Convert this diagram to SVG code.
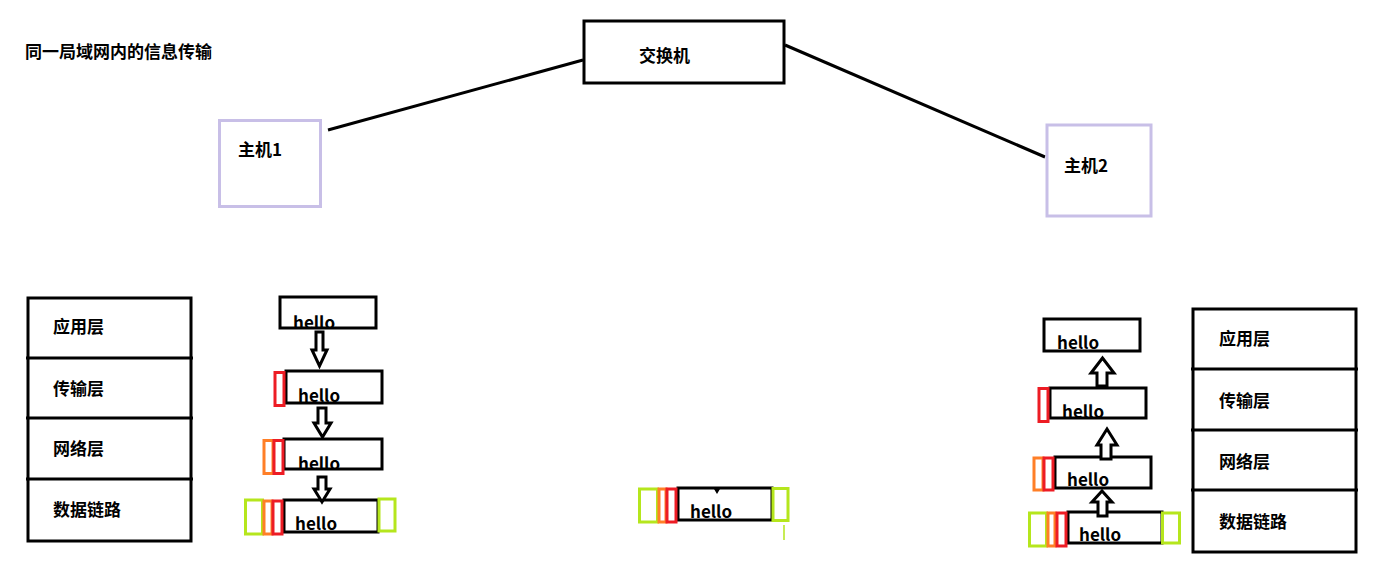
<svg xmlns="http://www.w3.org/2000/svg" width="1388" height="574" viewBox="0 0 1388 574">
<style>
text{font-family:"Noto Sans CJK SC","Noto Sans",sans-serif;font-weight:bold;font-size:17px;fill:#000}
.blk{fill:#fff;stroke:#000;stroke-width:3}
.host{fill:#fff;stroke:#c8bfe7;stroke-width:3}
.red{fill:#fff;stroke:#ed1c24;stroke-width:3}
.org{fill:#fff;stroke:#ff7f27;stroke-width:3}
.grn{fill:#fff;stroke:#b5e61d;stroke-width:3}
.arr{fill:#fff;stroke:#000;stroke-width:3;stroke-linejoin:miter}
.ln{stroke:#000;stroke-width:3;fill:none}
</style>
<rect width="1388" height="574" fill="#fff"/>
<text x="25" y="58" id="title">同一局域网内的信息传输</text>

<g id="connectors">
<line class="ln" x1="328" y1="130" x2="583" y2="60"/>
<line class="ln" x1="785" y1="45" x2="1045" y2="157"/>
</g>

<g id="switch">
<rect class="blk" x="584" y="21" width="200" height="62" stroke-width="3.5"/>
<text x="639" y="62">交换机</text>
</g>
<g id="host1">
<rect class="host" x="219.5" y="120.5" width="101" height="86"/>
<text x="238" y="156">主机1</text>
</g>
<g id="host2">
<rect class="host" x="1047" y="125" width="104" height="91"/>
<text x="1064" y="172">主机2</text>
</g>

<g id="stack-left">
<rect class="blk" x="28" y="298" width="163" height="243"/>
<line class="ln" x1="26" y1="358" x2="193" y2="358"/>
<line class="ln" x1="26" y1="418" x2="193" y2="418"/>
<line class="ln" x1="26" y1="479" x2="193" y2="479"/>
<text x="53" y="333">应用层</text>
<text x="53" y="395">传输层</text>
<text x="53" y="455">网络层</text>
<text x="53" y="516">数据链路</text>
</g>

<g id="stack-right">
<rect class="blk" x="1193" y="309" width="163" height="243"/>
<line class="ln" x1="1191" y1="369" x2="1358" y2="369"/>
<line class="ln" x1="1191" y1="430" x2="1358" y2="430"/>
<line class="ln" x1="1191" y1="490" x2="1358" y2="490"/>
<text x="1219" y="345">应用层</text>
<text x="1219" y="407">传输层</text>
<text x="1219" y="468">网络层</text>
<text x="1219" y="528">数据链路</text>
</g>

<g id="send-app">
<rect class="blk" x="280" y="297" width="96" height="31"/>
<text x="293" y="329">hello</text>
</g>
<g id="send-trans">
<rect class="blk" x="286" y="371" width="96" height="32"/>
<rect class="red" x="275" y="372.5" width="9" height="33"/>
<text x="298" y="402">hello</text>
</g>
<g id="send-net">
<rect class="blk" x="284" y="439" width="98" height="30"/>
<rect class="org" x="264" y="440.5" width="9" height="33"/>
<rect class="red" x="274" y="440.5" width="9" height="33"/>
<text x="298" y="470">hello</text>
</g>
<g id="send-link">
<rect class="blk" x="284" y="500" width="94" height="32"/>
<rect class="grn" x="245.5" y="500" width="17" height="34"/>
<rect class="org" x="264" y="501" width="8" height="33"/>
<rect class="red" x="273" y="501" width="9" height="33"/>
<rect class="grn" x="379" y="499" width="16" height="32"/>
<text x="295" y="530">hello</text>
</g>
<g id="send-arrows">
<polygon class="arr" points="316,332 323,332 323,350 327,350 319.5,366 312,350 316,350"/>
<polygon class="arr" points="318,408 326,408 326,423 331,423 322.5,437 314,423 318,423"/>
<polygon class="arr" points="318,477 326,477 326,489 330,489 322,502 314,489 318,489"/>
</g>

<g id="frame-wire">
<rect class="blk" x="678" y="488" width="94" height="32"/>
<rect class="grn" x="639.5" y="489" width="18" height="33"/>
<rect class="org" x="659" y="489" width="7" height="33"/>
<rect class="red" x="667" y="489" width="9" height="33"/>
<rect class="grn" x="773" y="488.5" width="15" height="32"/>
<polygon points="714,489 720,489 717,494" fill="#000"/>
<line x1="784" y1="525" x2="784" y2="540" stroke="#b5e61d" stroke-width="1.5"/>
<text x="690" y="518">hello</text>
</g>

<g id="recv-app">
<rect class="blk" x="1044" y="319" width="96" height="32"/>
<text x="1057" y="349">hello</text>
</g>
<g id="recv-trans">
<rect class="blk" x="1050" y="388" width="96" height="30"/>
<rect class="red" x="1039" y="388.5" width="9" height="33"/>
<text x="1062" y="418">hello</text>
</g>
<g id="recv-net">
<rect class="blk" x="1055" y="457" width="96" height="31"/>
<rect class="org" x="1034" y="458" width="9" height="32"/>
<rect class="red" x="1044" y="458" width="9" height="32"/>
<text x="1067" y="486">hello</text>
</g>
<g id="recv-link">
<rect class="blk" x="1068" y="512" width="94" height="31"/>
<rect class="grn" x="1029.5" y="513" width="17" height="33"/>
<rect class="org" x="1048" y="513" width="7" height="33"/>
<rect class="red" x="1057" y="513" width="9" height="33"/>
<rect class="grn" x="1162.5" y="513" width="17" height="30"/>
<text x="1079" y="541">hello</text>
</g>
<g id="recv-arrows">
<polygon class="arr" points="1097,386 1107,386 1107,373 1114,373 1102.5,358 1091,373 1097,373"/>
<polygon class="arr" points="1101,459 1111,459 1111,445 1117,445 1107,429 1097,445 1101,445"/>
<polygon class="arr" points="1098,516 1107,516 1107,502 1112,502 1102,491 1092,502 1098,502"/>
</g>
</svg>
